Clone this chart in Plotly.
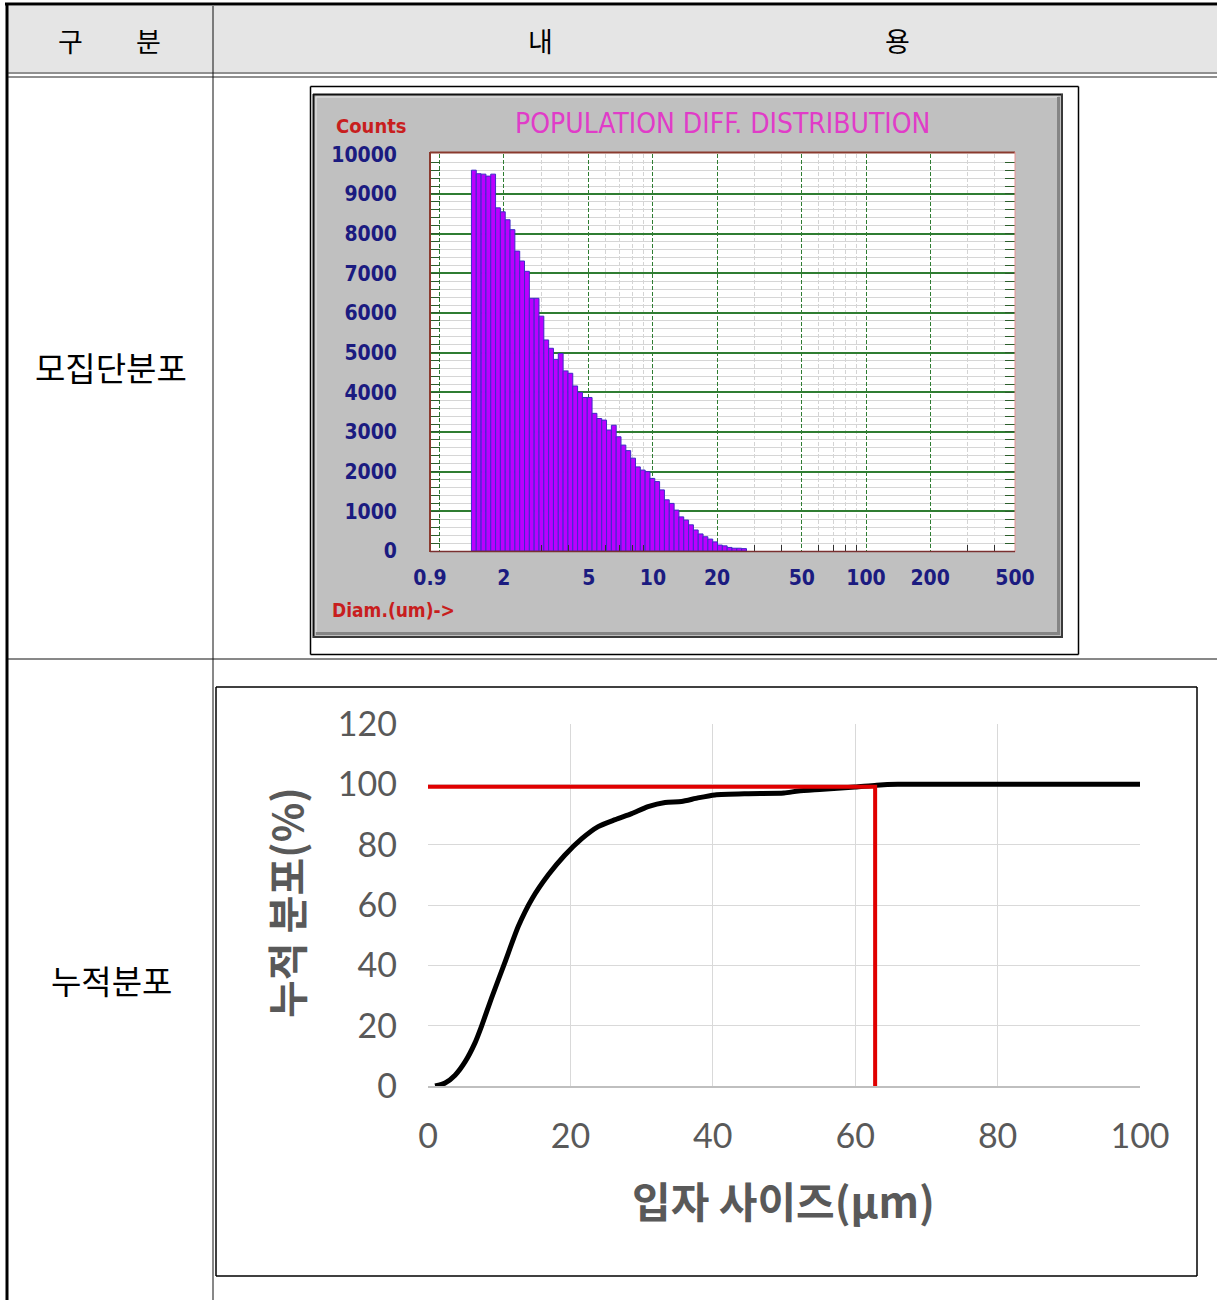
import numpy as np
import plotly.graph_objects as go

# ------------------------------------------------------------------ data
# population differential distribution (Coulter-type histogram)
diam_um = [1.446, 1.523, 1.605, 1.691, 1.781, 1.877, 1.977, 2.083, 2.194, 2.312,
           2.435, 2.566, 2.703, 2.847, 3.000, 3.160, 3.329, 3.508, 3.695, 3.893,
           4.101, 4.321, 4.552, 4.796, 5.052, 5.323, 5.607, 5.907, 6.224, 6.557,
           6.907, 7.277, 7.666, 8.077, 8.509, 8.964, 9.444, 9.949, 10.48, 11.04,
           11.63, 12.26, 12.91, 13.60, 14.33, 15.10, 15.90, 16.76, 17.65, 18.60,
           19.59, 20.64, 21.74, 22.91, 24.13, 25.42, 26.79]
counts = [9600, 9510, 9500, 9450, 9500, 8650, 8550, 8350, 8100, 7560,
          7310, 7050, 6370, 6370, 5920, 5320, 5110, 4830, 4980, 4540,
          4480, 4160, 4000, 3870, 3870, 3470, 3340, 3300, 3050, 3170,
          2880, 2670, 2530, 2340, 2120, 2040, 2000, 1830, 1750, 1540,
          1290, 1200, 1030, 860, 780, 660, 530, 430, 360, 300,
          230, 150, 130, 90, 70, 70, 60]
x_tick_vals = [0.9, 1, 2, 5, 10, 20, 50, 100, 200, 500]
x_tick_text = ["0.9", "", "2", "5", "10", "20", "50", "100", "200", "500"]
x_minor_grid = [3, 4, 6, 7, 8, 9, 30, 40, 60, 70, 80, 90, 300, 400]
y_tick_vals = [0, 1000, 2000, 3000, 4000, 5000, 6000, 7000, 8000, 9000, 10000]

# cumulative distribution
size_um = [1.0, 2.4, 3.8, 5.2, 6.6, 7.5, 8.9, 10.8, 12.7, 14.6, 16.9, 19.2, 21.6,
           23.9, 26.3, 28.6, 30.9, 33.3, 35.6, 37.9, 40.3, 45, 50, 52, 55, 60, 63,
           66, 100]
cum_pct = [0, 1, 3.6, 8, 14.3, 19.7, 29, 41, 53, 62, 70, 76.5, 82,
           86, 88.3, 90.3, 92.6, 94, 94.3, 95.5, 96.5, 96.9, 97.1, 97.8, 98.3, 99.1, 99.7,
           100, 100]
ref_x = [0, 62.8, 62.8]
ref_y = [99.2, 99.2, 0]

# ------------------------------------------------------------------ helpers
W, H = 1217, 1300


def fx(px):
    return px / W


def fy(py):
    return 1 - py / H


COND = "DejaVu Sans Condensed, Liberation Sans Narrow, Roboto, sans-serif"
XL = "Lato, Roboto, sans-serif"
KR = "Noto Sans CJK KR, Noto Sans CJK SC, sans-serif"

shapes = []


def line(x0, y0, x1, y1, color, width, layer="above"):
    shapes.append(dict(type="line", xref="paper", yref="paper", x0=fx(x0), y0=fy(y0),
                       x1=fx(x1), y1=fy(y1), line=dict(color=color, width=width),
                       layer=layer))


def rect(x0, y0, x1, y1, fill, layer="below"):
    shapes.append(dict(type="rect", xref="paper", yref="paper", x0=fx(x0), y0=fy(y0),
                       x1=fx(x1), y1=fy(y1), fillcolor=fill,
                       line=dict(color="rgba(0,0,0,0)", width=0), layer=layer))


annotations = []


def text(t, x, y, size, color, family, weight="normal", angle=0):
    annotations.append(dict(text=t, x=fx(x), y=fy(y), xref="paper", yref="paper",
                            showarrow=False, xanchor="center", yanchor="middle",
                            textangle=angle,
                            font=dict(size=size, color=color, family=family, weight=weight)))


# ------------------------------------------------------------------ table
rect(8, 6, 1217, 72, "#e5e5e5")
line(5, 4, 1217, 4, "black", 3)
line(7, 3, 7, 1300, "black", 3)
line(8, 73, 1217, 73, "#222222", 1.2)
line(8, 77, 1217, 77, "#222222", 1.2)
line(213, 6, 213, 1300, "#111111", 1)
line(8, 659, 1217, 659, "#111111", 1)

text("구", 70, 40, 27, "black", KR)
text("분", 148, 40, 27, "black", KR)
text("내", 540, 40, 27, "black", KR)
text("용", 898, 40, 27, "black", KR)
text("모집단분포", 111, 367, 33, "black", KR)
text("누적분포", 111, 980, 33, "black", KR)

# ------------------------------------------------------------------ top chart frame
line(310.5, 86.5, 1078.5, 86.5, "black", 1.5, "below")
line(310.5, 654.5, 1078.5, 654.5, "black", 1.5, "below")
line(310.5, 86.5, 310.5, 654.5, "black", 1.5, "below")
line(1078.5, 86.5, 1078.5, 654.5, "black", 1.5, "below")
rect(313, 94, 1063, 638, "#c0c0c0")
line(313, 94.5, 1063, 94.5, "#101010", 2, "below")
line(313.5, 94, 313.5, 638, "#101010", 2, "below")
line(316, 97, 1058, 97, "#e6e6e6", 1, "below")
line(316, 97, 316, 632, "#e6e6e6", 1, "below")
line(316, 633.5, 1060, 633.5, "#858585", 3, "below")
line(1058.5, 97, 1058.5, 635, "#858585", 3, "below")
line(313, 637, 1063, 637, "#3a3a3a", 2, "below")
line(1062, 94, 1062, 638, "#3a3a3a", 2, "below")
rect(430, 153, 1015, 551, "white")
# plot frame
line(430, 152.5, 1015, 152.5, "#8a3a2e", 2)
line(430, 152, 430, 552, "#8a3a2e", 2)
line(1015, 152, 1015, 552, "#e89090", 1)
line(430, 551.5, 1015, 551.5, "#7a3030", 1.5)

text("POPULATION DIFF. DISTRIBUTION", 722, 123, 28, "#e03cc8", COND)
text("Counts", 371, 126, 20, "#c81e1e", COND, weight="bold")
text("Diam.(um)->", 393, 610, 19, "#c81e1e", COND, weight="bold")

# ------------------------------------------------------------------ bottom chart frame
line(216, 687, 1197, 687, "black", 1.5)
line(216, 1276, 1197, 1276, "black", 1.5)
line(216, 687, 216, 1276, "black", 1.5)
line(1197, 687, 1197, 1276, "black", 1.5)

text("입자 사이즈(μm)", 783, 1199, 42, "#595959", KR, weight="bold")
text("누적 분포(%)", 285, 903, 41, "#595959", KR, weight="bold", angle=-90)

# ------------------------------------------------------------------ traces
fig = go.Figure()

bar_width = [d * 0.052 for d in diam_um]
fig.add_trace(go.Bar(x=diam_um, y=counts, width=bar_width, xaxis="x", yaxis="y",
                     marker=dict(color="#bb00ff", line=dict(color="#3f2ac8", width=1)),
                     hoverinfo="skip", showlegend=False))

fig.add_trace(go.Scatter(x=size_um, y=cum_pct, mode="lines", xaxis="x2", yaxis="y2",
                         line=dict(color="black", width=5, shape="spline", smoothing=0.6),
                         hoverinfo="skip", showlegend=False))
fig.add_trace(go.Scatter(x=ref_x, y=ref_y, mode="lines", xaxis="x2", yaxis="y2",
                         line=dict(color="#e00000", width=4),
                         hoverinfo="skip", showlegend=False))

TOP_X = [fx(430), fx(1015)]
TOP_Y = [fy(551), fy(153.5)]
BOT_X = [fx(428), fx(1140)]
BOT_Y = [fy(1086), fy(724)]
LR = [float(np.log10(0.9)), float(np.log10(500))]

navy_font = dict(family=COND, size=21, color="#1b1b80", weight="bold")
xl_font = dict(family=XL, size=34, color="#595959")

fig.update_layout(
    width=W, height=H, autosize=False,
    margin=dict(l=0, r=0, t=0, b=0, pad=0, autoexpand=False),
    paper_bgcolor="white", plot_bgcolor="rgba(0,0,0,0)",
    showlegend=False, hovermode=False,
    shapes=shapes, annotations=annotations,
    xaxis=dict(domain=TOP_X, anchor="y", type="log", range=LR, automargin=False,
               tickvals=x_tick_vals, ticktext=x_tick_text,
               showgrid=True, gridcolor="#2f7d32", griddash="4px,2px", gridwidth=1,
               zeroline=False, showline=False, ticks="", mirror="ticks",
               minor=dict(tickvals=x_minor_grid, showgrid=True, gridcolor="#d4d4d4",
                          gridwidth=1, ticks="inside", ticklen=6, tickcolor="#303030"),
               tickfont=navy_font, ticklabelstandoff=12, fixedrange=True),
    yaxis=dict(domain=TOP_Y, anchor="x", range=[0, 10020], automargin=False,
               tickvals=y_tick_vals, ticktext=[str(v) for v in y_tick_vals],
               showgrid=True, gridcolor="#2f7d32", gridwidth=2,
               zeroline=False, showline=False, ticks="inside", ticklen=10,
               tickcolor="#2c5e2c", mirror="ticks",
               minor=dict(dtick=200, showgrid=True, gridcolor="#d6d6d6", gridwidth=1,
                          ticks="inside", ticklen=10, tickcolor="#2c5e2c"),
               tickfont=navy_font, ticklabelstandoff=32, fixedrange=True),
    xaxis2=dict(domain=BOT_X, anchor="y2", range=[0, 100], dtick=20, tick0=0,
                automargin=False,
                showgrid=True, gridcolor="#d9d9d9", gridwidth=1,
                zeroline=False, showline=True, linecolor="#bfbfbf", linewidth=2,
                ticks="", tickfont=xl_font, ticklabelstandoff=19, fixedrange=True),
    yaxis2=dict(domain=BOT_Y, anchor="x2", range=[0, 120], dtick=20, tick0=0,
                automargin=False,
                showgrid=True, gridcolor="#d9d9d9", gridwidth=1,
                zeroline=False, showline=False, ticks="",
                tickfont=xl_font, ticklabelstandoff=30, fixedrange=True),
)

fig.write_html("out.html",
               config={"displayModeBar": False, "staticPlot": True},
               post_script="document.body.style.margin='0px';document.body.style.padding='0px';")
